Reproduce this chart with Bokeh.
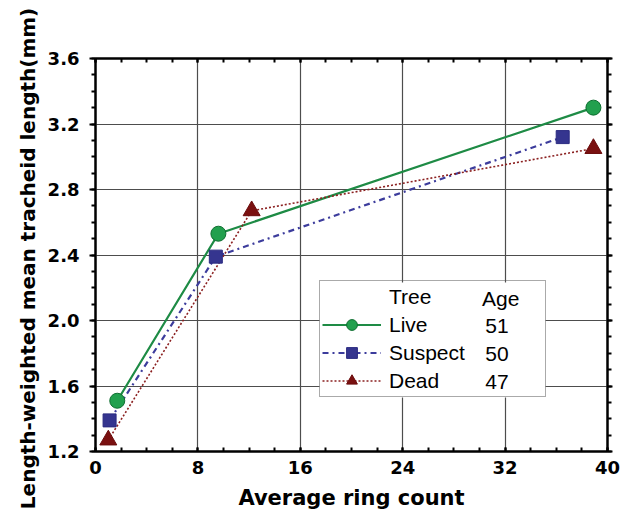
from bokeh.plotting import figure
from bokeh.models import (Range1d, LinearAxis, SingleIntervalTicker, PrintfTickFormatter,
                          CustomJSTickFormatter, Legend, LegendItem, BoxAnnotation)
from bokeh.core.properties import value
from bokeh.embed import file_html
from bokeh.resources import INLINE

# Average ring count vs length-weighted mean tracheid length (mm)
live_x = [1.7, 9.6, 38.9]
live_y = [1.51, 2.53, 3.30]
suspect_x = [1.1, 9.4, 36.5]
suspect_y = [1.39, 2.39, 3.12]
dead_x = [1.0, 12.2, 38.9]
dead_y = [1.27, 2.67, 3.05]

tree_names = ["Live", "Suspect", "Dead"]
tree_ages = ["51", "50", "47"]

AX_FONT = "DejaVu Sans"
LEG_FONT = "Liberation Sans"

p = figure(width=627, height=528,
           x_range=Range1d(0, 40), y_range=Range1d(1.2, 3.6),
           output_backend="svg", toolbar_location=None,
           min_border_left=95, min_border_right=20,
           min_border_top=58, min_border_bottom=77)

p.outline_line_color = "black"
p.outline_line_width = 2
p.background_fill_color = "white"
p.border_fill_color = "white"

x_ticker = SingleIntervalTicker(interval=8, num_minor_ticks=4)
y_ticker = SingleIntervalTicker(interval=0.4, num_minor_ticks=4)

# bottom axis
xa = p.xaxis[0]
xa.ticker = x_ticker
xa.axis_label = "Average ring count"
xa.axis_label_text_font = AX_FONT
xa.axis_label_text_font_style = "bold"
xa.axis_label_text_font_size = "21px"
xa.axis_label_text_color = "black"
xa.axis_label_standoff = 9
xa.major_label_text_font = AX_FONT
xa.major_label_text_font_style = "bold"
xa.major_label_text_font_size = "18px"
xa.major_label_text_color = "black"
xa.major_label_standoff = 9
xa.major_tick_in, xa.major_tick_out = 4, 0
xa.minor_tick_in, xa.minor_tick_out = 4, 0

# left axis; a trailing no-break space nudges the long title slightly downwards
ya = p.yaxis[0]
ya.ticker = y_ticker
ya.formatter = PrintfTickFormatter(format="%.1f")
ya.axis_label = "Length-weighted mean tracheid length(mm)" + "\u00a0"
ya.axis_label_text_font = AX_FONT
ya.axis_label_text_font_style = "bold"
ya.axis_label_text_font_size = "20px"
ya.axis_label_text_color = "black"
ya.axis_label_standoff = 5
ya.major_label_text_font = AX_FONT
ya.major_label_text_font_style = "bold"
ya.major_label_text_font_size = "18px"
ya.major_label_text_color = "black"
ya.major_label_standoff = 10
ya.major_tick_in, ya.major_tick_out = 0, 6
ya.minor_tick_in, ya.minor_tick_out = 0, 4

# mirrored top and right axes, ticks only
blank = CustomJSTickFormatter(code="return ''")
top = LinearAxis(ticker=x_ticker, formatter=blank, major_label_standoff=0,
                 major_tick_in=4, major_tick_out=0, minor_tick_in=4, minor_tick_out=0)
right = LinearAxis(ticker=y_ticker, formatter=blank, major_label_standoff=0,
                   major_tick_in=0, major_tick_out=5, minor_tick_in=0, minor_tick_out=4)
p.add_layout(top, "above")
p.add_layout(right, "right")

for ax in (xa, ya, top, right):
    ax.axis_line_width = 2
    ax.axis_line_color = "black"
    ax.major_tick_line_width = 2
    ax.major_tick_line_color = "black"
    ax.minor_tick_line_width = 2
    ax.minor_tick_line_color = "black"

p.xgrid.ticker = x_ticker
p.ygrid.ticker = y_ticker
for g in (p.xgrid, p.ygrid):
    g.grid_line_color = "#4d4d4d"
    g.grid_line_width = 1.2

# white panel behind the legend so that grid lines do not show through it
p.add_layout(BoxAnnotation(left=17.5, right=35.16, bottom=1.53, top=2.232, level="underlay",
                           fill_color="white", fill_alpha=1.0, line_color=None,
                           editable=False))

# series
live_line = p.line(live_x, live_y, line_color="#1e8b45", line_width=2.2)
suspect_line = p.line(suspect_x, suspect_y, line_color="#3c3c9c", line_width=2.2,
                      line_dash="dashdot")
dead_line = p.line(dead_x, dead_y, line_color="#8b2020", line_width=1.6, line_dash="2 2")

live_pts = p.scatter(live_x, live_y, marker="circle", size=15,
                     fill_color="#22a04e", line_color="#0e6e30", line_width=1)
suspect_pts = p.scatter(suspect_x, suspect_y, marker="square", size=13,
                        fill_color="#35358f", line_color="#2a2a80", line_width=1)
dead_pts = p.scatter(dead_x, dead_y, marker="triangle", size=17,
                     fill_color="#7a1010", line_color="#6a0c0c", line_width=1)

# age column inside the legend
age_text = ["Age"] + tree_ages
age_x = [30.2, 30.45, 30.45, 30.45]
age_y = [2.137, 1.966, 1.795, 1.624]
p.text(x=age_x, y=age_y, text=age_text,
       text_font=value(LEG_FONT), text_font_size="21px", text_color="black",
       text_baseline="middle", text_align="left")

# empty renderer used only for the legend header row
header = p.line(x=[], y=[], line_alpha=0)

legend = Legend(items=[
    LegendItem(label="Tree", renderers=[header]),
    LegendItem(label=tree_names[0], renderers=[live_line, live_pts]),
    LegendItem(label=tree_names[1], renderers=[suspect_line, suspect_pts]),
    LegendItem(label=tree_names[2], renderers=[dead_line, dead_pts]),
], location=(224, 54), orientation="vertical",
   glyph_width=59, glyph_height=27, label_height=24, label_width=154,
   spacing=1, padding=2, margin=0, label_standoff=8,
   label_text_font=LEG_FONT, label_text_font_size="21px", label_text_color="black",
   border_line_color="#555555", border_line_width=1.5,
   background_fill_alpha=0.0)
p.add_layout(legend)

open("out.html", "w").write(file_html(p, INLINE))
